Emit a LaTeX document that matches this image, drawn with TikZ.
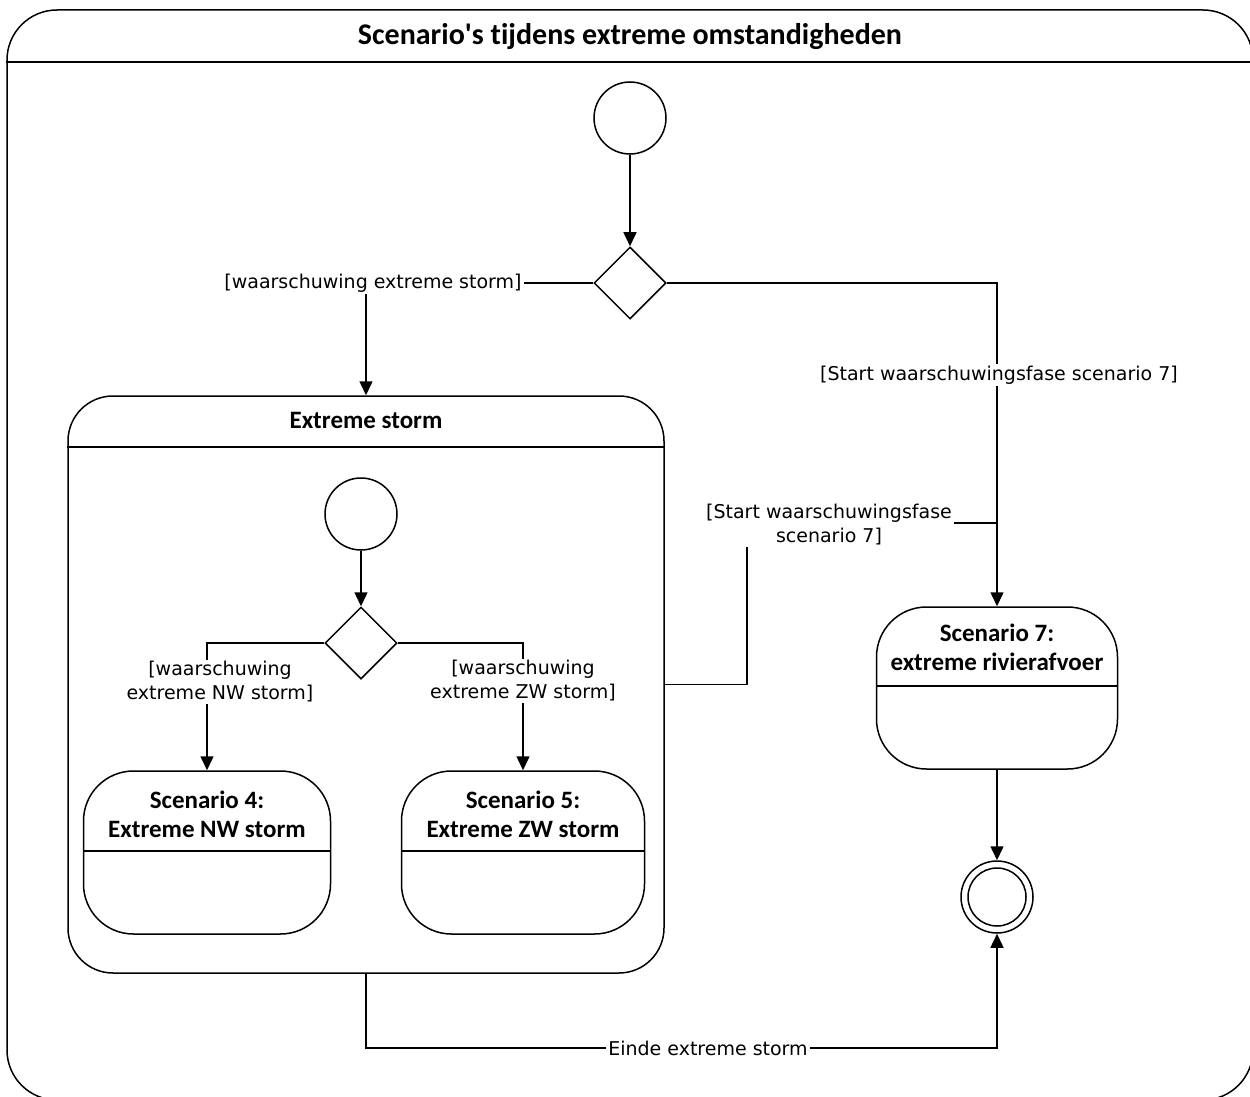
\documentclass[tikz,border=0pt]{standalone}
\usepackage{fontspec}
\setmainfont{Carlito}[Ligatures={NoCommon}]
\newfontfamily\labfont{DejaVu Sans}
\usetikzlibrary{shapes.geometric,arrows.meta}
\begin{document}
\begin{tikzpicture}[x=1pt,y=-1pt,line width=1.5pt,
  arr/.style={-{Triangle[length=14pt,width=13pt]}},
  stbox/.style={draw,rectangle,rounded corners=50pt,inner sep=0pt},
  initst/.style={draw,circle,minimum size=72pt,inner sep=0pt},
  decis/.style={draw,diamond,minimum width=72pt,minimum height=72pt,inner sep=0pt},
  guard/.style={font=\labfont\fontsize{19}{24}\selectfont,fill=white,inner sep=2pt,align=center},
  ttl/.style={font=\bfseries\fontsize{25}{29}\selectfont,align=center}]
\useasboundingbox (0,0) rectangle (1250,1097);
% outer frame
\node[stbox,minimum width=1246pt,minimum height=1090pt] (frame) at (630,555) {};
\draw (frame.west |- 0,62) -- (frame.east |- 0,62);
\node[font=\bfseries\fontsize{30}{36}\selectfont] (title) at (630,37) {Scenario\textquotesingle s tijdens extreme omstandigheden};
% top level
\node[initst] (init) at (630,118) {};
\node[decis] (dec) at (630,283) {};
% extreme storm composite
\node[stbox,rounded corners=45pt,minimum width=596pt,minimum height=577pt] (ES) at (366,684.5) {};
\draw (ES.west |- 0,447) -- (ES.east |- 0,447);
\node[ttl] (EStitle) at (366,420) {Extreme storm};
\node[initst] (init2) at (361,514) {};
\node[decis] (dec2) at (361,643) {};
\node[stbox,minimum width=247pt,minimum height=163pt] (S4) at (207,852.5) {};
\draw (S4.west |- 0,851) -- (S4.east |- 0,851);
\node[ttl] (S4title) at (207,814) {Scenario 4:\\Extreme NW storm};
\node[stbox,minimum width=243pt,minimum height=163pt] (S5) at (523,852.5) {};
\draw (S5.west |- 0,851) -- (S5.east |- 0,851);
\node[ttl] (S5title) at (523,814) {Scenario 5:\\Extreme ZW storm};
% scenario 7
\node[stbox,minimum width=241pt,minimum height=162pt] (S7) at (997,688) {};
\draw (S7.west |- 0,686) -- (S7.east |- 0,686);
\node[ttl] (S7title) at (997,647) {Scenario 7:\\extreme rivierafvoer};
% final
\node[initst] (fin) at (997,897) {};
\node[draw,circle,minimum size=58pt,inner sep=0pt] (fininner) at (fin) {};
% connectors
\draw[arr] (init) -- (dec);
\draw[arr] (dec.west) -| (ES.north);
\node[guard] (g1) at (373,283) {[waarschuwing extreme storm]};
\draw[arr] (dec.east) -| (S7.north);
\node[guard] (g2) at (999,375) {[Start waarschuwingsfase scenario 7]};
\coordinate (join) at (997,523);
\draw (ES.east) -- ++(82,0) |- (join);
\node[guard] (g3) at (829,525) {[Start waarschuwingsfase\\scenario 7]};
\draw[arr] (init2) -- (dec2);
\draw[arr] (dec2.west) -| (S4.north);
\node[guard] (g4) at (220,682) {[waarschuwing\\extreme NW storm]};
\draw[arr] (dec2.east) -| (S5.north);
\node[guard] (g5) at (523,681) {[waarschuwing\\extreme ZW storm]};
\draw[arr] (S7.south) -- (fin.north);
\draw[arr] (ES.south) -- ++(0,74) -| (fin.south);
\node[guard] (g6) at (708,1048) {Einde extreme storm};
\end{tikzpicture}
\end{document}
